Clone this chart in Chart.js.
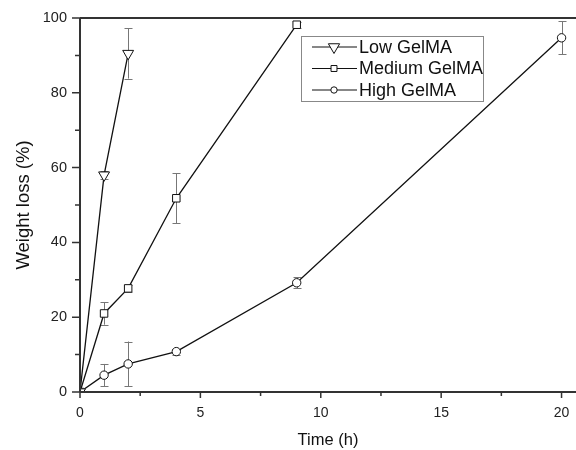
<!DOCTYPE html>
<html>
<head>
<meta charset="utf-8">
<script src="https://cdn.jsdelivr.net/npm/chart.js@4"></script>
<style>
  html, body { margin: 0; padding: 0; background: #fff; }
  #wrap { width: 576px; height: 450px; }
</style>
</head>
<body>
<div id="wrap"><canvas id="chart" width="576" height="450"></canvas></div>
<script>
// data
const lowTime = [0, 1, 2];
const lowLoss = [0, 58, 90.5];
const lowErr = [0, 1, 6.7];

const medTime = [0, 1, 2, 4, 9];
const medLoss = [0, 21, 27.7, 51.8, 98.2];
const medErr = [0, 3, 1, 6.7, 0.8];

const highTime = [0, 1, 2, 4, 9, 20];
const highLoss = [0, 4.5, 7.5, 10.8, 29.2, 94.7];
const highErr = [0, 3, 6, 0.8, 1.5, 4.4];

const xTicks = [0, 5, 10, 15, 20];
const yTicks = [0, 20, 40, 60, 80, 100];

const FONT = "'Liberation Sans', Arial, sans-serif";

function pts(xs, ys) {
    return xs.map((x, i) => ({ x: x, y: ys[i] }));
}

const series = [
    { label: 'Low GelMA', data: pts(lowTime, lowLoss), err: lowErr, style: 'triangle', radius: 6.3, rotation: 180, legendRadius: 6.5 },
    { label: 'Medium GelMA', data: pts(medTime, medLoss), err: medErr, style: 'rect', radius: 5.3, rotation: 0, legendRadius: 4.2 },
    { label: 'High GelMA', data: pts(highTime, highLoss), err: highErr, style: 'circle', radius: 4.2, rotation: 0, legendRadius: 3.2 }
];

// error bars, drawn under the markers
const errorBars = {
    id: 'errorBars',
    beforeDatasetsDraw(chart) {
        const ctx = chart.ctx;
        const xs = chart.scales.x, ys = chart.scales.y;
        ctx.save();
        ctx.strokeStyle = '#777';
        ctx.lineWidth = 1;
        series.forEach(s => {
            s.data.forEach((p, i) => {
                const e = s.err[i];
                if (!e) return;
                const px = Math.round(xs.getPixelForValue(p.x)) + 0.5;
                const top = ys.getPixelForValue(p.y + e);
                const bot = ys.getPixelForValue(p.y - e);
                ctx.beginPath();
                ctx.moveTo(px, top); ctx.lineTo(px, bot);
                ctx.moveTo(px - 4, Math.round(top) + 0.5); ctx.lineTo(px + 4, Math.round(top) + 0.5);
                ctx.moveTo(px - 4, Math.round(bot) + 0.5); ctx.lineTo(px + 4, Math.round(bot) + 0.5);
                ctx.stroke();
            });
        });
        ctx.restore();
    }
};

// axis frame and tick marks (major + minor, outward)
const frame = {
    id: 'frame',
    afterDraw(chart) {
        const ctx = chart.ctx;
        const a = chart.chartArea;
        const xs = chart.scales.x, ys = chart.scales.y;
        ctx.save();
        ctx.strokeStyle = '#333';
        ctx.lineWidth = 2;
        ctx.beginPath();
        ctx.moveTo(a.left, a.top); ctx.lineTo(a.right, a.top);
        ctx.moveTo(a.left, a.top); ctx.lineTo(a.left, a.bottom);
        ctx.moveTo(a.left, a.bottom); ctx.lineTo(a.right, a.bottom);
        ctx.stroke();
        ctx.lineWidth = 1.5;
        ctx.beginPath();
        for (let v = 0; v <= 20; v += 2.5) {
            const px = xs.getPixelForValue(v);
            const len = v % 5 === 0 ? 6 : 4;
            ctx.moveTo(px, a.bottom); ctx.lineTo(px, a.bottom + len);
        }
        for (let v = 0; v <= 100; v += 10) {
            const py = ys.getPixelForValue(v);
            const len = v % 20 === 0 ? 8 : 5;
            ctx.moveTo(a.left, py); ctx.lineTo(a.left - len, py);
        }
        ctx.stroke();
        ctx.restore();
    }
};

// legend box with line + marker samples
const boxLegend = {
    id: 'boxLegend',
    afterDraw(chart) {
        const ctx = chart.ctx;
        ctx.save();
        ctx.strokeStyle = '#888';
        ctx.lineWidth = 1;
        ctx.strokeRect(301.5, 36.5, 182, 65);
        ctx.font = '18px ' + FONT;
        ctx.textBaseline = 'middle';
        ctx.fillStyle = '#111';
        series.forEach((s, i) => {
            const y = 47 + i * 21.5;
            ctx.strokeStyle = '#111';
            ctx.lineWidth = 1.2;
            ctx.beginPath();
            ctx.moveTo(312, y); ctx.lineTo(357, y);
            ctx.stroke();
            ctx.fillStyle = '#fff';
            ctx.lineWidth = 1;
            Chart.helpers.drawPoint(ctx, { pointStyle: s.style, radius: s.legendRadius, rotation: s.rotation, borderWidth: 1 }, 334, y);
            ctx.fillStyle = '#111';
            ctx.fillText(s.label, 359, y + 1);
        });
        ctx.restore();
    }
};

new Chart(document.getElementById('chart').getContext('2d'), {
    type: 'scatter',
    data: {
        datasets: series.map(s => ({
            label: s.label,
            data: s.data,
            showLine: true,
            borderColor: '#111',
            borderWidth: 1.3,
            backgroundColor: '#fff',
            pointStyle: s.style,
            pointRadius: s.radius,
            pointRotation: s.rotation,
            pointBorderColor: '#111',
            pointBorderWidth: 1,
            pointBackgroundColor: '#fff'
        }))
    },
    options: {
        responsive: false,
        animation: false,
        layout: { autoPadding: false, padding: { top: 18, right: 0, left: 0, bottom: 0 } },
        plugins: {
            legend: { display: false },
            tooltip: { enabled: false }
        },
        scales: {
            x: {
                type: 'linear',
                min: 0,
                max: 20.6,
                grid: { display: false },
                border: { display: false },
                afterBuildTicks: scale => { scale.ticks = xTicks.map(v => ({ value: v })); },
                afterFit: scale => { scale.height = 58; scale.paddingLeft = 0; scale.paddingRight = 0; },
                ticks: { font: { family: FONT, size: 14 }, color: '#222', padding: 5, maxRotation: 0 },
                title: { display: true, text: 'Time (h)', font: { family: FONT, size: 16.5 }, color: '#111', padding: 0 }
            },
            y: {
                type: 'linear',
                min: 0,
                max: 100,
                grid: { display: false },
                border: { display: false },
                afterBuildTicks: scale => { scale.ticks = yTicks.map(v => ({ value: v })); },
                afterFit: scale => { scale.width = 80; scale.paddingTop = 0; scale.paddingBottom = 0; },
                ticks: { font: { family: FONT, size: 14.5 }, color: '#222', padding: 5 },
                title: { display: true, text: 'Weight loss (%)', font: { family: FONT, size: 18.5 }, color: '#111', padding: { top: 13, bottom: 0 } }
            }
        }
    },
    plugins: [errorBars, frame, boxLegend]
});
</script>
</body>
</html>
